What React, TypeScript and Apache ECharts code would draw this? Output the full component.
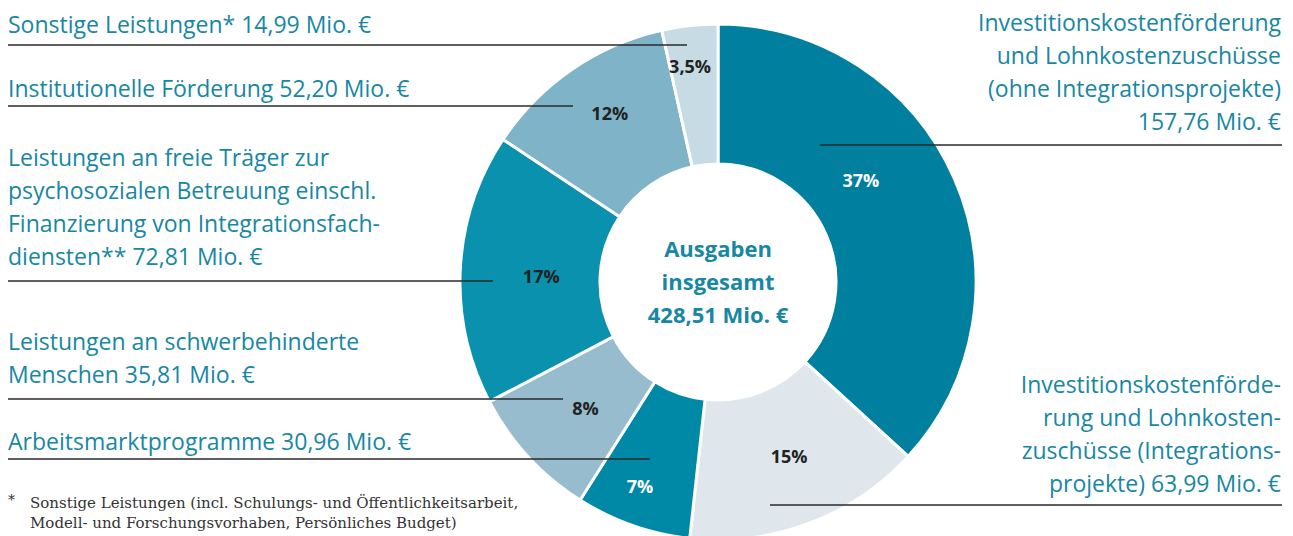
import React, { useEffect, useRef } from "react";
import * as echarts from "echarts";

const categories = [
  "Investitionskostenförderung und Lohnkostenzuschüsse (ohne Integrationsprojekte)",
  "Investitionskostenförderung und Lohnkostenzuschüsse (Integrationsprojekte)",
  "Arbeitsmarktprogramme",
  "Leistungen an schwerbehinderte Menschen",
  "Leistungen an freie Träger zur psychosozialen Betreuung einschl. Finanzierung von Integrationsfachdiensten**",
  "Institutionelle Förderung",
  "Sonstige Leistungen*",
];
const values = [157.76, 63.99, 30.96, 35.81, 72.81, 52.2, 14.99];
const colors = ["#00809e", "#dfe7ed", "#0089a7", "#97bccd", "#0a91ad", "#7fb3c8", "#c6dbe3"];
const labelColors = ["#ffffff", "#222222", "#ffffff", "#222222", "#222222", "#222222", "#222222"];
const labelShift = [
  [-32, -25],
  [4, -5],
  [-15, 24],
  [8, -3],
  [14, 4],
  [0, -12],
  [-7, -26],
];

const leftLabels = [
  { lines: ["Sonstige Leistungen* 14,99 Mio. €"], y: 24, lineY: 45, lineEnd: 687 },
  { lines: ["Institutionelle Förderung 52,20 Mio. €"], y: 88, lineY: 106, lineEnd: 573 },
  {
    lines: [
      "Leistungen an freie Träger zur",
      "psychosozialen Betreuung einschl.",
      "Finanzierung von Integrationsfach-",
      "diensten** 72,81 Mio. €",
    ],
    y: 157,
    lineY: 281,
    lineEnd: 493,
  },
  { lines: ["Leistungen an schwerbehinderte", "Menschen 35,81 Mio. €"], y: 341, lineY: 399, lineEnd: 563 },
  { lines: ["Arbeitsmarktprogramme 30,96 Mio. €"], y: 441, lineY: 459, lineEnd: 650 },
];
const rightLabels = [
  {
    lines: [
      "Investitionskostenförderung",
      "und Lohnkostenzuschüsse",
      "(ohne Integrationsprojekte)",
      "157,76 Mio. €",
    ],
    y: 22,
    lineY: 145,
    lineStart: 820,
  },
  {
    lines: [
      "Investitionskostenförde-",
      "rung und Lohnkosten-",
      "zuschüsse (Integrations-",
      "projekte) 63,99 Mio. €",
    ],
    y: 384,
    lineY: 505,
    lineStart: 770,
  },
];
const centerLines = ["Ausgaben", "insgesamt", "428,51 Mio. €"];
const footnoteLines = [
  "Sonstige Leistungen (incl. Schulungs- und Öffentlichkeitsarbeit,",
  "Modell- und Forschungsvorhaben, Persönliches Budget)",
];

const TEXT = "#1787a3";
const FONT = "23px 'Open Sans', sans-serif";
const LH = 33;

export default function App() {
  const ref = useRef<HTMLDivElement>(null);
  useEffect(() => {
    document.body.style.margin = "0";
    if (!ref.current) return;
    const chart = echarts.init(ref.current, undefined, { renderer: "svg" });
    const graphics: any[] = [];
    leftLabels.forEach((l) => {
      l.lines.forEach((t, i) => {
        graphics.push({
          type: "text",
          x: 8,
          y: l.y + i * LH,
          style: { text: t, fill: TEXT, font: FONT, textAlign: "left", textVerticalAlign: "middle" },
        });
      });
      graphics.push({
        type: "line",
        shape: { x1: 8, y1: l.lineY, x2: l.lineEnd, y2: l.lineY },
        style: { stroke: "#2a2a2a", lineWidth: 1.5 },
        z: 10,
      });
    });
    rightLabels.forEach((l) => {
      l.lines.forEach((t, i) => {
        graphics.push({
          type: "text",
          x: 1281,
          y: l.y + i * LH,
          style: { text: t, fill: TEXT, font: FONT, textAlign: "right", textVerticalAlign: "middle" },
        });
      });
      graphics.push({
        type: "line",
        shape: { x1: l.lineStart, y1: l.lineY, x2: 1282, y2: l.lineY },
        style: { stroke: "#2a2a2a", lineWidth: 1.5 },
        z: 10,
      });
    });
    centerLines.forEach((t, i) => {
      graphics.push({
        type: "text",
        x: 718,
        y: 248 + i * 33,
        style: {
          text: t,
          fill: TEXT,
          font: "bold 22px 'Open Sans', sans-serif",
          textAlign: "center",
          textVerticalAlign: "middle",
        },
      });
    });
    graphics.push({
      type: "text",
      x: 8,
      y: 500,
      style: { text: "*", fill: "#333", font: "14px 'DejaVu Serif', serif", textVerticalAlign: "middle" },
    });
    footnoteLines.forEach((t, i) => {
      graphics.push({
        type: "text",
        x: 30,
        y: 503 + i * 20,
        style: { text: t, fill: "#333", font: "15px 'DejaVu Serif', serif", textVerticalAlign: "middle" },
      });
    });

    chart.setOption({
      animation: false,
      series: [
        {
          type: "pie",
          center: [718, 282],
          radius: [118, 258],
          startAngle: 90,
          clockwise: true,
          avoidLabelOverlap: false,
          itemStyle: { borderColor: "#ffffff", borderWidth: 3 },
          emphasis: { disabled: true },
          label: {
            show: true,
            position: "inside",
            fontFamily: "'Open Sans', sans-serif",
            fontWeight: "bold",
            fontSize: 18,
            formatter: (p: any) =>
              p.percent < 5 ? p.percent.toFixed(1).replace(".", ",") + "%" : Math.round(p.percent) + "%",
          },
          labelLayout: (p: any) => ({ dx: labelShift[p.dataIndex][0], dy: labelShift[p.dataIndex][1] }),
          labelLine: { show: false },
          data: values.map((v, i) => ({
            name: categories[i],
            value: v,
            itemStyle: { color: colors[i] },
            label: { color: labelColors[i] },
          })),
        },
      ],
      graphic: graphics,
    });
    return () => chart.dispose();
  }, []);
  return <div ref={ref} style={{ width: 1293, height: 536 }} />;
}
